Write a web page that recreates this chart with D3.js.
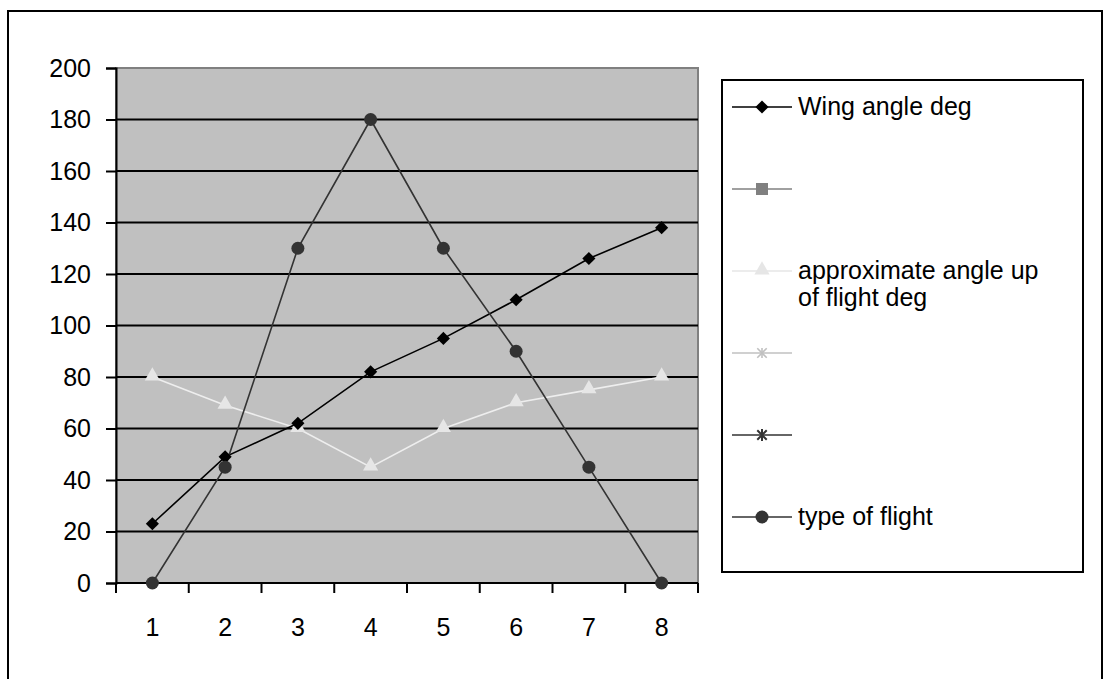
<!DOCTYPE html>
<html>
<head>
<meta charset="utf-8">
<script src="https://d3js.org/d3.v7.min.js"></script>
<style>
  body { margin: 0; background: #fff; }
  text { font-family: "Liberation Sans", Arial, sans-serif; }
</style>
</head>
<body>
<script>
// data
var categories = ["1", "2", "3", "4", "5", "6", "7", "8"];
var wingAngle = [23, 49, 62, 82, 95, 110, 126, 138];
var flightAngle = [80, 69, 60, 45, 60, 70, 75, 80];
var flightType = [0, 45, 130, 180, 130, 90, 45, 0];
var yTicks = [0, 20, 40, 60, 80, 100, 120, 140, 160, 180, 200];
var legendNames = ["Wing angle deg", "", "approximate angle up\nof flight deg", "", "", "type of flight"];

var width = 1106, height = 679;
var plotL = 116, plotR = 698, plotT = 68, plotB = 583;
var fs = 25;

var svg = d3.select("body")
    .append("svg")
    .attr("width", width)
    .attr("height", height);

// outer frame (bottom edge is cut off in the picture)
svg.append("rect")
    .attr("x", 8).attr("y", 11)
    .attr("width", 1094).attr("height", 700)
    .attr("fill", "white")
    .attr("stroke", "black")
    .attr("stroke-width", 2);

var x = d3.scaleBand()
    .domain(categories)
    .range([plotL, plotR]);

var y = d3.scaleLinear()
    .domain([0, 200])
    .range([plotB, plotT]);

// plot area
svg.append("rect")
    .attr("x", plotL).attr("y", plotT)
    .attr("width", plotR - plotL).attr("height", plotB - plotT)
    .attr("fill", "#c0c0c0")
    .attr("stroke", "#808080")
    .attr("stroke-width", 2);

// gridlines
svg.append("g")
    .selectAll("line")
    .data(yTicks.filter(function (d) { return d > 0 && d < 200; }))
    .enter()
    .append("line")
    .attr("x1", plotL).attr("x2", plotR)
    .attr("y1", function (d) { return y(d); })
    .attr("y2", function (d) { return y(d); })
    .attr("stroke", "black")
    .attr("stroke-width", 2);

// y axis
var yAxis = svg.append("g")
    .attr("transform", "translate(" + plotL + ",0)")
    .call(d3.axisLeft(y).tickValues(yTicks).tickSize(10).tickPadding(15));
yAxis.select(".domain").attr("stroke", "black").attr("stroke-width", 2);
yAxis.selectAll(".tick line").attr("stroke", "black").attr("stroke-width", 2);
yAxis.selectAll(".tick text")
    .attr("font-size", fs)
    .attr("font-family", "Liberation Sans, Arial, sans-serif")
    .attr("fill", "black");

// x axis: ticks on category boundaries
var xAxisG = svg.append("g");
xAxisG.append("line")
    .attr("x1", plotL).attr("x2", plotR)
    .attr("y1", plotB).attr("y2", plotB)
    .attr("stroke", "black").attr("stroke-width", 2);
var bounds = categories.map(function (c) { return x(c); }).concat([x(categories[categories.length - 1]) + x.bandwidth()]);
xAxisG.selectAll(".xt")
    .data(bounds)
    .enter()
    .append("line")
    .attr("x1", function (d) { return d; })
    .attr("x2", function (d) { return d; })
    .attr("y1", plotB).attr("y2", plotB + 10)
    .attr("stroke", "black").attr("stroke-width", 2);
xAxisG.selectAll("text")
    .data(categories)
    .enter()
    .append("text")
    .attr("x", function (d) { return x(d) + x.bandwidth() / 2; })
    .attr("y", plotB + 53)
    .attr("text-anchor", "middle")
    .attr("font-size", fs)
    .text(function (d) { return d; });

var cx = function (d, i) { return x(categories[i]) + x.bandwidth() / 2; };

function drawLine(values, color) {
    var line = d3.line()
        .x(function (d, i) { return cx(d, i); })
        .y(function (d) { return y(d); });
    svg.append("path")
        .datum(values)
        .attr("d", line)
        .attr("fill", "none")
        .attr("stroke", color)
        .attr("stroke-width", 1.6);
}

var diamond = d3.symbol().type(d3.symbolDiamond2).size(110);
var triangle = d3.symbol().type(d3.symbolTriangle).size(100);

drawLine(flightAngle, "#eeeeee");
drawLine(wingAngle, "#000000");
drawLine(flightType, "#333333");

svg.append("g").selectAll("path")
    .data(flightAngle).enter().append("path")
    .attr("d", triangle)
    .attr("transform", function (d, i) { return "translate(" + cx(d, i) + "," + (y(d) - 1) + ")"; })
    .attr("fill", "#e6e6e6");

svg.append("g").selectAll("path")
    .data(wingAngle).enter().append("path")
    .attr("d", diamond)
    .attr("transform", function (d, i) { return "translate(" + cx(d, i) + "," + y(d) + ")"; })
    .attr("fill", "#000");

svg.append("g").selectAll("circle")
    .data(flightType).enter().append("circle")
    .attr("cx", function (d, i) { return cx(d, i); })
    .attr("cy", function (d) { return y(d); })
    .attr("r", 6.5)
    .attr("fill", "#333333");

// legend
var lgTop = 80, lgLeft = 722;
svg.append("rect")
    .attr("x", lgLeft).attr("y", lgTop)
    .attr("width", 1083 - lgLeft).attr("height", 572 - lgTop)
    .attr("fill", "white")
    .attr("stroke", "black")
    .attr("stroke-width", 2);

var legendColors = ["#000000", "#808080", "#e6e6e6", "#c0c0c0", "#333333", "#333333"];
var legendY = d3.scaleLinear().domain([0, 5]).range([107, 517]);

var lg = svg.append("g").selectAll("g")
    .data(legendNames)
    .enter()
    .append("g")
    .attr("transform", function (d, i) { return "translate(0," + legendY(i) + ")"; });

lg.append("line")
    .attr("x1", 732).attr("x2", 792)
    .attr("y1", 0).attr("y2", 0)
    .attr("stroke", function (d, i) { return legendColors[i]; })
    .attr("stroke-width", 1.6);

lg.each(function (d, i) {
    var g = d3.select(this);
    var c = legendColors[i];
    if (i === 0) {
        g.append("path").attr("d", diamond).attr("transform", "translate(762,0)").attr("fill", c);
    } else if (i === 1) {
        g.append("rect").attr("x", 756).attr("y", -6).attr("width", 12).attr("height", 12).attr("fill", c);
    } else if (i === 2) {
        g.append("path").attr("d", triangle).attr("transform", "translate(762,-1)").attr("fill", c);
    } else if (i === 3) {
        g.append("path").attr("d", d3.symbol().type(d3.symbolX).size(60)).attr("transform", "translate(762,0)")
            .attr("fill", "none").attr("stroke", c).attr("stroke-width", 1.6);
        g.append("line").attr("x1", 762).attr("x2", 762).attr("y1", -5).attr("y2", 5).attr("stroke", c).attr("stroke-width", 1.6);
    } else if (i === 4) {
        g.append("path").attr("d", d3.symbol().type(d3.symbolX).size(60)).attr("transform", "translate(762,0)")
            .attr("fill", "none").attr("stroke", c).attr("stroke-width", 2);
        g.append("line").attr("x1", 762).attr("x2", 762).attr("y1", -6).attr("y2", 6).attr("stroke", c).attr("stroke-width", 2);
    } else {
        g.append("circle").attr("cx", 762).attr("cy", 0).attr("r", 6.5).attr("fill", c);
    }
    var lines = d.split("\n");
    var t = g.append("text")
        .attr("x", 798)
        .attr("y", 8)
        .attr("font-size", fs)
        .attr("fill", "black");
    lines.forEach(function (s, k) {
        t.append("tspan").attr("x", 798).attr("dy", k === 0 ? 0 : 27).text(s);
    });
});
</script>
</body>
</html>
